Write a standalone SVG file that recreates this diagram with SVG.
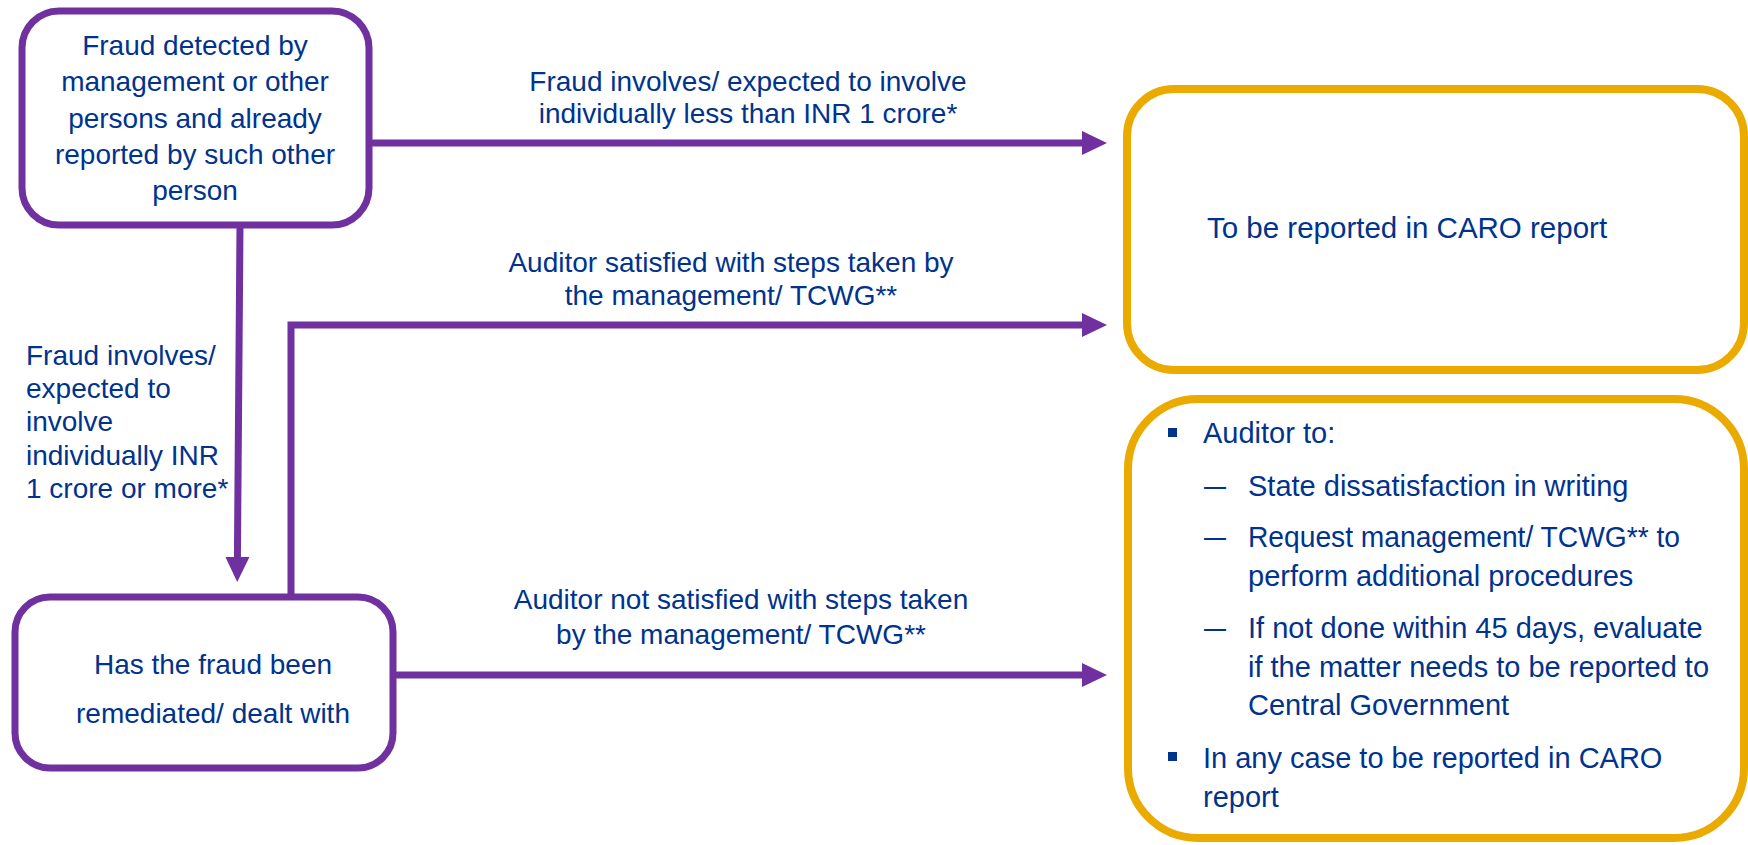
<svg xmlns="http://www.w3.org/2000/svg" width="1748" height="845" viewBox="0 0 1748 845">
<defs>
<style>
.t{font-family:"Liberation Sans",Arial,sans-serif;font-size:28px;fill:#00338D}
.c{text-anchor:middle}
.pbox{fill:#fff;stroke:#7030A0;stroke-width:7}
.gbox{fill:#fff;stroke:#EAAA00;stroke-width:8}
.conn{fill:none;stroke:#7030A0;stroke-width:7}
.r{font-size:29px}
</style>
<marker id="ah" markerUnits="userSpaceOnUse" markerWidth="25" markerHeight="24" refX="1" refY="12" orient="auto" viewBox="0 0 25 24">
<path d="M0,0 L25,12 L0,24 z" fill="#7030A0"/>
</marker>
</defs>
<rect width="1748" height="845" fill="#fff"/>
<g id="connectors">
<path class="conn" d="M371,143 H1083" marker-end="url(#ah)"/>
<path class="conn" d="M291,597 V325 H1083" marker-end="url(#ah)"/>
<path class="conn" d="M393,675 H1083" marker-end="url(#ah)"/>
<path class="conn" d="M240,225 L237.4,558" marker-end="url(#ah)"/>
<text class="t c" x="748" y="91">Fraud involves/ expected to involve</text>
<text class="t c" x="748" y="123">individually less than INR 1 crore*</text>
<text class="t c" x="731" y="272">Auditor satisfied with steps taken by</text>
<text class="t c" x="731" y="305">the management/ TCWG**</text>
<text class="t c" x="741" y="609">Auditor not satisfied with steps taken</text>
<text class="t c" x="741" y="644">by the management/ TCWG**</text>
<text class="t" x="26" y="365">Fraud involves/</text>
<text class="t" x="26" y="398">expected to</text>
<text class="t" x="26" y="431">involve</text>
<text class="t" x="26" y="465">individually INR</text>
<text class="t" x="26" y="498">1 crore or more*</text>
</g>
<g id="node-detected">
<rect class="pbox" x="22" y="11" width="347" height="214" rx="37"/>
<text class="t c" x="195" y="55">Fraud detected by</text>
<text class="t c" x="195" y="91">management or other</text>
<text class="t c" x="195" y="128">persons and already</text>
<text class="t c" x="195" y="164">reported by such other</text>
<text class="t c" x="195" y="200">person</text>
</g>
<g id="node-remediated">
<rect class="pbox" x="15" y="597" width="378" height="171" rx="35"/>
<text class="t c" x="213" y="674">Has the fraud been</text>
<text class="t c" x="213" y="723">remediated/ dealt with</text>
</g>
<g id="node-caro">
<rect class="gbox" x="1127" y="89" width="617" height="281" rx="47"/>
<text class="t" x="1207" y="238" style="font-size:29.5px">To be reported in CARO report</text>
</g>
<g id="node-dissatisfied">
<rect class="gbox" x="1128" y="399" width="616" height="439" rx="70"/>
<rect x="1168" y="428" width="9" height="9" fill="#00338D"/>
<text class="t r" x="1203" y="443">Auditor to:</text>
<text class="t r" x="1204" y="496" textLength="22" lengthAdjust="spacingAndGlyphs">—</text>
<text class="t r" x="1248" y="496">State dissatisfaction in writing</text>
<text class="t r" x="1204" y="547" textLength="22" lengthAdjust="spacingAndGlyphs">—</text>
<text class="t r" x="1248" y="547" textLength="432" lengthAdjust="spacingAndGlyphs">Request management/ TCWG** to</text>
<text class="t r" x="1248" y="586">perform additional procedures</text>
<text class="t r" x="1204" y="638" textLength="22" lengthAdjust="spacingAndGlyphs">—</text>
<text class="t r" x="1248" y="638">If not done within 45 days, evaluate</text>
<text class="t r" x="1248" y="677">if the matter needs to be reported to</text>
<text class="t r" x="1248" y="715">Central Government</text>
<rect x="1168" y="752" width="9" height="9" fill="#00338D"/>
<text class="t r" x="1203" y="768">In any case to be reported in CARO</text>
<text class="t r" x="1203" y="807">report</text>
</g>
</svg>
